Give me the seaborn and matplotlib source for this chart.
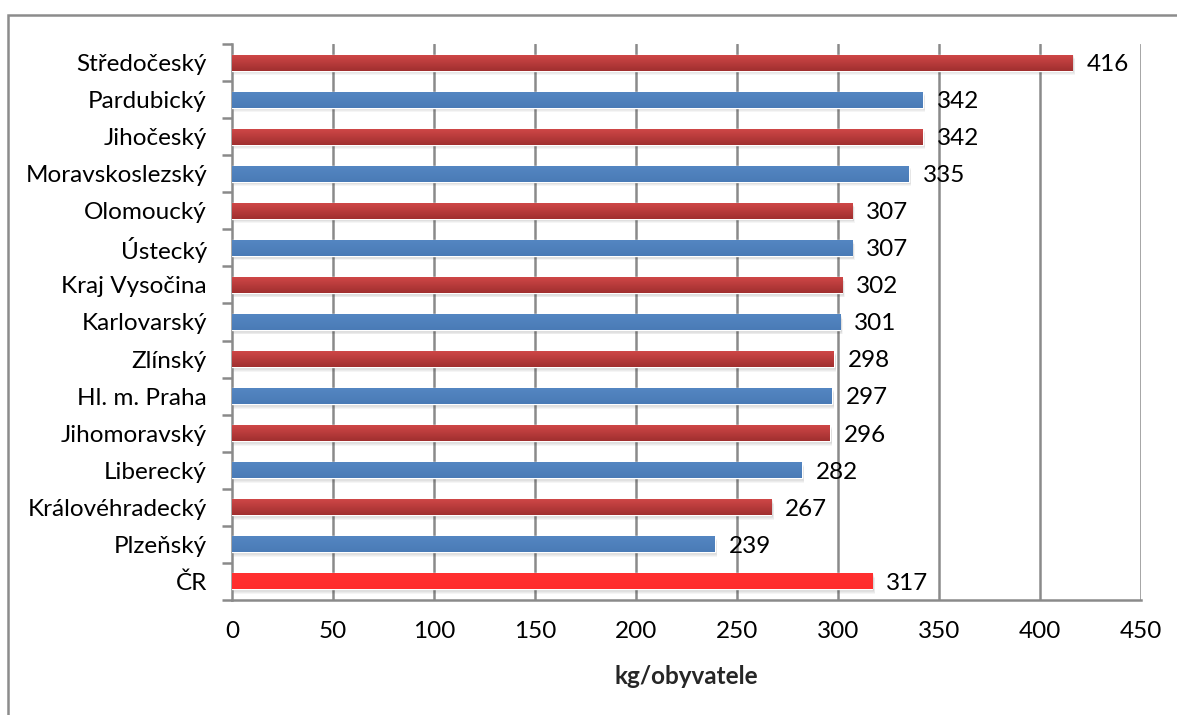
import numpy as np
import matplotlib
matplotlib.use("Agg")
import matplotlib.pyplot as plt
import seaborn as sns
from matplotlib.patches import Rectangle

regions = ["Středočeský", "Pardubický", "Jihočeský", "Moravskoslezský", "Olomoucký",
           "Ústecký", "Kraj Vysočina", "Karlovarský", "Zlínský", "Hl. m. Praha",
           "Jihomoravský", "Liberecký", "Královéhradecký", "Plzeňský", "ČR"]
values = [416, 342, 342, 335, 307, 307, 302, 301, 298, 297, 296, 282, 267, 239, 317]
kinds = ["red", "blue", "red", "blue", "red", "blue", "red", "blue", "red", "blue",
         "red", "blue", "red", "blue", "total"]
x_ticks = [0, 50, 100, 150, 200, 250, 300, 350, 400, 450]
x_label = "kg/obyvatele"

base_colors = {"red": "#c23b3b", "blue": "#4f81bd", "total": "#ff2e2e"}
gradients = {"red": ("#cf4747", "#a02f2f"), "blue": ("#5486c2", "#4a7bb6"),
             "total": ("#ff3030", "#ff2c2c")}

sns.set_theme(style="white")
plt.rcParams["font.family"] = ["Lato", "DejaVu Sans"]
FS = 17.5

fig = plt.figure(figsize=(11.77, 7.15), dpi=100)
ax = fig.add_axes([232 / 1177, 1 - 600 / 715, (1141 - 232) / 1177, (600 - 44) / 715])

palette = [base_colors[k] for k in kinds]
sns.barplot(x=values, y=regions, hue=regions, palette=palette, legend=False,
            orient="h", width=0.43, ax=ax, saturation=1, zorder=3)

ax.set_xlim(0, 450)
ax.set_ylim(len(regions) - 0.5, -0.5)

# vertical gridlines
for t in x_ticks[1:]:
    ax.axvline(t, color="#8a8a8a", lw=1.8, zorder=1)

# gradient fill and soft shadow for each bar
px_y = 1.0 / 37.0
px_x = 450.0 / 909.0
for patch, kind in zip(ax.patches, kinds):
    x0, y0 = patch.get_x(), patch.get_y()
    w, h = patch.get_width(), patch.get_height()
    for i in range(1, 6):
        ax.add_patch(Rectangle((x0 + 1.0 * px_x, y0 + i * px_y * 0.9), w + i * px_x * 0.3, h,
                               facecolor="#000000", alpha=0.04, lw=0, zorder=2))
    top, bot = gradients[kind]
    grad = np.linspace(0, 1, 64).reshape(-1, 1)
    cmap = matplotlib.colors.LinearSegmentedColormap.from_list("g", [top, bot])
    im = ax.imshow(grad, cmap=cmap, aspect="auto", extent=[x0, x0 + w, y0 + h, y0],
                   zorder=4, interpolation="bilinear")
    im.set_clip_path(patch)
ax.set_xlim(0, 450)
ax.set_ylim(len(regions) - 0.5, -0.5)

# value labels
for i, v in enumerate(values):
    ax.text(v + 14 * px_x, i + 0.05, f"{v}", va="center", ha="left",
            fontsize=FS, color="black", zorder=5)

ax.set_xticks(x_ticks)
ax.set_xticklabels([str(t) for t in x_ticks], fontsize=FS)
ax.set_yticks(range(len(regions)))
ax.set_yticklabels(regions, fontsize=FS)
ax.set_xlabel(x_label, fontsize=FS, fontweight="bold", labelpad=17)
ax.set_ylabel("")

for s in ["top", "right"]:
    ax.spines[s].set_visible(False)
for s in ["left", "bottom"]:
    ax.spines[s].set_color("#8a8a8a")
    ax.spines[s].set_linewidth(1.8)

# x ticks pointing down, y ticks at category boundaries
ax.tick_params(axis="x", direction="out", length=7, width=1.8, color="#8a8a8a",
               pad=8, labelcolor="black")
ax.tick_params(axis="y", length=0, pad=18, labelcolor="black")
ax.set_yticks(np.arange(-0.5, len(regions), 1), minor=True)
ax.tick_params(axis="y", which="minor", direction="out", length=7, width=1.8,
               color="#8a8a8a", left=True)

# outer chart frame
fig.patches.append(Rectangle((8 / 1177, -0.05), 1.1, 1 - 15 / 715 + 0.05,
                             transform=fig.transFigure, fill=False,
                             edgecolor="#8c8c8c", lw=1.8))

fig.savefig("out.png", dpi=100)
